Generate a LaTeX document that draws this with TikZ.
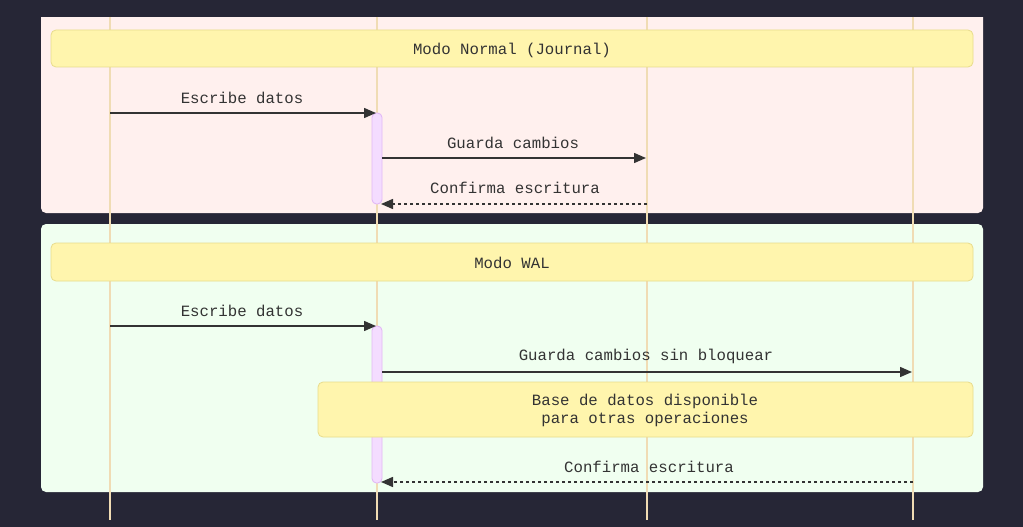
\documentclass[tikz,border=0pt]{standalone}
\usepackage{fontspec}
\setmonofont{Liberation Mono}
\usetikzlibrary{arrows.meta}
\definecolor{bgc}{HTML}{262636}
\definecolor{pinkbox}{HTML}{FFF0EE}
\definecolor{greenbox}{HTML}{F0FFF0}
\definecolor{notefill}{HTML}{FFF5AD}
\definecolor{notedraw}{HTML}{E8DC8C}
\definecolor{lifec}{HTML}{F0DCB4}
\definecolor{actfill}{HTML}{F4DCFF}
\definecolor{actdraw}{HTML}{E2B8F6}
\definecolor{txt}{HTML}{333333}
\begin{document}
\begin{tikzpicture}[x=1pt,y=-1pt,
  font=\ttfamily\fontsize{15.7}{18}\selectfont,
  lifeline/.style={draw=lifec,line width=1.6pt},
  actbox/.style={draw=actdraw,fill=actfill,line width=0.9pt,rounded corners=4.5pt,inner sep=0pt,minimum width=10pt},
  notebox/.style={draw=notedraw,fill=notefill,line width=0.8pt,rounded corners=5pt,inner sep=0pt},
  msg/.style={draw=txt,line width=1.5pt,-{Triangle[length=12pt 0 0,width=10pt 0 0]}},
  reply/.style={msg,dash pattern=on 3pt off 3pt},
  lbl/.style={text=txt,inner sep=0pt}]
\useasboundingbox (0,0) rectangle (1023,527);
\fill[bgc] (0,0) rectangle (1023,527);
% section boxes
\fill[pinkbox,rounded corners=5pt] (41,0) rectangle (983,213);
\fill[bgc] (0,0) rectangle (1023,17);
\fill[greenbox,rounded corners=5pt] (41,224) rectangle (983,492);
% lifelines
\foreach \n/\x in {A/110,B/377,C/647,D/913}{
  \coordinate (\n top) at (\x,17);
  \coordinate (\n bot) at (\x,520);
  \draw[lifeline] (\n top) -- (\n bot);
}
% activations
\node[actbox,minimum height=91pt] (act1) at (377,158.5) {};
\node[actbox,minimum height=157pt] (act2) at (377,404.5) {};
% notes
\node[notebox,minimum width=922pt,minimum height=37pt] (note1) at (512,48.5) {};
\node[notebox,minimum width=922pt,minimum height=38pt] (note2) at (512,262) {};
\node[notebox,minimum width=655pt,minimum height=55pt] (note3) at (645.5,409.5) {};
\node[lbl] (n1) at (note1.center) [yshift=-1.5pt] {Modo Normal (Journal)};
\node[lbl] (n2) at (note2.center) [yshift=-1pt] {Modo WAL};
\node[lbl] (n3a) at (645,401) {Base de datos disponible};
\node[lbl] (n3b) at (645,419) {para otras operaciones};
% message endpoints
\coordinate (m1s) at (110,113); \coordinate (m1e) at (376,113);
\coordinate (m2s) at (382,158); \coordinate (m2e) at (646,158);
\coordinate (m3s) at (647,204); \coordinate (m3e) at (381,204);
\coordinate (m4s) at (110,326); \coordinate (m4e) at (376,326);
\coordinate (m5s) at (382,372); \coordinate (m5e) at (912,372);
\coordinate (m6s) at (913,482); \coordinate (m6e) at (381,482);
\draw[msg] (m1s) -- (m1e);
\draw[msg] (m2s) -- (m2e);
\draw[reply] (m3s) -- (m3e);
\draw[msg] (m4s) -- (m4e);
\draw[msg] (m5s) -- (m5e);
\draw[reply] (m6s) -- (m6e);
% labels
\node[lbl] (l1) at (242,98) {Escribe datos};
\node[lbl] (l2) at (513,143) {Guarda cambios};
\node[lbl] (l3) at (515,188) {Confirma escritura};
\node[lbl] (l4) at (242,311) {Escribe datos};
\node[lbl] (l5) at (646,356) {Guarda cambios sin bloquear};
\node[lbl] (l6) at (649,467) {Confirma escritura};
\end{tikzpicture}
\end{document}
